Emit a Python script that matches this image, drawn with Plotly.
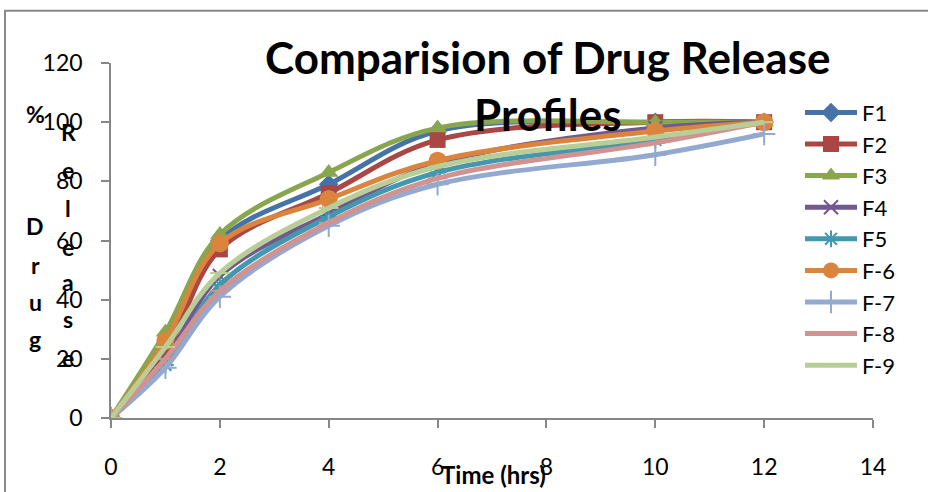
import plotly.graph_objects as go

time_hrs = [0, 1, 2, 4, 6, 10, 12]
names = ["F1", "F2", "F3", "F4", "F5", "F-6", "F-7", "F-8", "F-9"]
F1 = [0, 25, 60, 79, 97, 100, 100]
F2 = [0, 22, 57, 76, 94, 100, 100]
F3 = [0, 29, 62, 83, 98, 100, 100]
F4 = [0, 20, 48, 69, 86, 98, 100]
F5 = [0, 18, 45, 68, 83, 94, 100]
F6 = [0, 26, 59, 74, 87, 97, 100]
F7 = [0, 17, 41, 65, 79, 89, 96]
F8 = [0, 20, 43, 66, 81, 93, 100]
F9 = [0, 24, 49, 71, 85, 95, 100]
series = [F1, F2, F3, F4, F5, F6, F7, F8, F9]

colors = ["#4572A7", "#AA4643", "#89A54E", "#71588F", "#4198AF",
          "#DB843D", "#93A9CF", "#D19392", "#B9CD96"]
symbols = ["diamond", "square", "triangle-up", "x-thin-open", "asterisk-open",
           "circle", "cross-thin-open", "line-ew-open", "line-ew-open"]
msizes = [15, 16, 17, 14, 14, 18, 16, 14, 14]

FONT = "Lato, Liberation Sans, sans-serif"

fig = go.Figure()
for n, ys, c, s, ms in zip(names, series, colors, symbols, msizes):
    open_sym = s.endswith("-open")
    fig.add_trace(go.Scatter(
        x=time_hrs, y=ys, name=n, mode="lines+markers",
        line=dict(color=c, width=5, shape="spline", smoothing=1.0),
        marker=dict(symbol=s, size=ms, color=c,
                    line=dict(color=c, width=2 if open_sym else 0)),
    ))

# paper-coordinate helpers (plot area: x 111..873 px, y 63..423 px)
def px_x(p):
    return (p - 111) / 762.0

def px_y(p):
    return (423 - p) / 360.0

annotations = [
    dict(text="<b>Comparision of Drug Release</b>", x=px_x(547), y=px_y(57),
         xref="paper", yref="paper", showarrow=False, xanchor="center", yanchor="middle",
         font=dict(size=44, color="black", family=FONT)),
    dict(text="<b>Profiles</b>", x=px_x(548), y=px_y(115),
         xref="paper", yref="paper", showarrow=False, xanchor="center", yanchor="middle",
         font=dict(size=44, color="black", family=FONT)),
    dict(text="<b>Time (hrs)</b>", x=px_x(493), y=px_y(480),
         xref="paper", yref="paper", showarrow=False, xanchor="center", yanchor="middle",
         font=dict(size=24, color="black", family=FONT)),
]
col1 = [("%", 115), ("D", 228), ("r", 268), ("u", 305), ("g", 343)]
col2 = [("R", 133), ("e", 172), ("l", 210), ("e", 250), ("a", 285), ("s", 323), ("e", 362)]
for ch, py in col1:
    annotations.append(dict(text="<b>%s</b>" % ch, x=px_x(35), y=px_y(py), xref="paper", yref="paper",
                            showarrow=False, xanchor="center", yanchor="middle",
                            font=dict(size=23, color="black", family=FONT)))
for ch, py in col2:
    annotations.append(dict(text="<b>%s</b>" % ch, x=px_x(68), y=px_y(py), xref="paper", yref="paper",
                            showarrow=False, xanchor="center", yanchor="middle",
                            font=dict(size=23, color="black", family=FONT)))

fig.update_layout(
    width=928, height=492,
    margin=dict(l=111, r=55, t=63, b=69),
    paper_bgcolor="white", plot_bgcolor="white",
    showlegend=True,
    legend=dict(x=px_x(800), y=px_y(92), xanchor="left", yanchor="top",
                font=dict(size=22, color="black", family=FONT),
                bgcolor="rgba(0,0,0,0)", tracegroupgap=0, itemwidth=52),
    annotations=annotations,
    shapes=[dict(type="rect", xref="paper", yref="paper",
                 x0=px_x(5), x1=px_x(1000), y0=px_y(560), y1=px_y(10),
                 line=dict(color="#898989", width=2), fillcolor="rgba(0,0,0,0)", layer="below")],
)
fig.update_xaxes(range=[0, 14], dtick=2, tick0=0, showgrid=False, zeroline=False,
                 showline=True, linecolor="#868686", linewidth=1.5,
                 ticks="outside", ticklen=8, tickcolor="#868686", tickwidth=1.5,
                 ticklabelstandoff=20,
                 tickfont=dict(size=23, color="black", family=FONT))
fig.update_yaxes(range=[0, 120], dtick=20, tick0=0, showgrid=False, zeroline=False,
                 showline=True, linecolor="#868686", linewidth=1.5,
                 ticks="outside", ticklen=8, tickcolor="#868686", tickwidth=1.5,
                 ticklabelstandoff=14,
                 tickfont=dict(size=23, color="black", family=FONT))

fig.write_html("out.html")
